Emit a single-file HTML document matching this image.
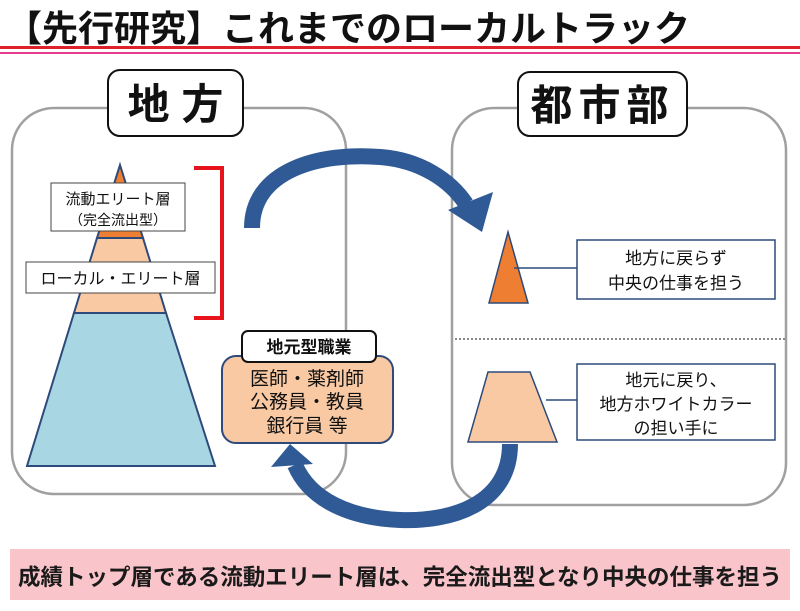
<!DOCTYPE html>
<html><head><meta charset="utf-8"><style>
body{margin:0;width:800px;height:606px;background:#fff;overflow:hidden;font-family:"Liberation Sans","Noto Sans CJK JP",sans-serif}
</style></head><body>
<svg width="800" height="606" xmlns="http://www.w3.org/2000/svg" style="font-family:'Liberation Sans','Noto Sans CJK JP',sans-serif">
<text x="6" y="41" font-size="36" font-weight="bold" fill="#111">【先行研究】これまでのローカルトラック</text>
<rect x="0" y="46" width="800" height="3" fill="#e0202a"/>
<rect x="0" y="52" width="800" height="2" fill="#e63c8c"/>
<rect x="12" y="108" width="334" height="386" rx="42" fill="none" stroke="#a0a0a0" stroke-width="2.5"/>
<rect x="452" y="108" width="334" height="397" rx="42" fill="none" stroke="#a0a0a0" stroke-width="2.5"/>
<line x1="455" y1="339" x2="786" y2="339" stroke="#888" stroke-width="2" stroke-dasharray="2,2"/>
<rect x="108" y="70" width="135" height="66" rx="12" fill="#fff" stroke="#111" stroke-width="2"/>
<text x="175.5" y="119" font-size="42" font-weight="bold" text-anchor="middle" fill="#111">地 方</text>
<rect x="518" y="72" width="169" height="64" rx="12" fill="#fff" stroke="#111" stroke-width="2"/>
<text x="602.5" y="120" font-size="42" font-weight="bold" text-anchor="middle" fill="#111" letter-spacing="6">都市部</text>
<!-- pyramid -->
<polygon points="74,313 166,313 215,466 27,466" fill="#a9d6e3" stroke="#2d4a7a" stroke-width="2"/>
<polygon points="97,238 143,238 166,313 74,313" fill="#f8c9a3" stroke="#2d4a7a" stroke-width="2"/>
<polygon points="120,165 143,238 97,238" fill="#ee7f32" stroke="#2d4a7a" stroke-width="2"/>
<rect x="51" y="183" width="134" height="48" fill="#fff" stroke="#444" stroke-width="1"/>
<text x="118" y="204" font-size="15" text-anchor="middle" fill="#111">流動エリート層</text>
<text x="118" y="225" font-size="14" text-anchor="middle" fill="#111">（完全流出型）</text>
<rect x="26" y="262" width="189" height="31" fill="#fff" stroke="#444" stroke-width="1"/>
<text x="120.5" y="284" font-size="16" text-anchor="middle" fill="#111">ローカル・エリート層</text>
<path d="M194,168 H222 V318 H194" fill="none" stroke="#e8141c" stroke-width="4"/>
<!-- right shapes -->
<polygon points="508,232 528,303 489,303" fill="#ee7f32" stroke="#2d4a7a" stroke-width="1.5"/>
<line x1="514" y1="268" x2="577" y2="268" stroke="#2d4a7a" stroke-width="1.5"/>
<rect x="577" y="240" width="198" height="59" fill="#fff" stroke="#2d4a7a" stroke-width="1.5"/>
<text x="676" y="264" font-size="17" text-anchor="middle" fill="#111">地方に戻らず</text>
<text x="676" y="289" font-size="17" text-anchor="middle" fill="#111">中央の仕事を担う</text>
<polygon points="488,372 530,372 557,442 468,442" fill="#f8c9a3" stroke="#2d4a7a" stroke-width="1.5"/>
<line x1="546" y1="400" x2="577" y2="400" stroke="#2d4a7a" stroke-width="1.5"/>
<rect x="577" y="364" width="198" height="76" fill="#fff" stroke="#2d4a7a" stroke-width="1.5"/>
<text x="676" y="386" font-size="17" text-anchor="middle" fill="#111">地元に戻り、</text>
<text x="676" y="410" font-size="17" text-anchor="middle" fill="#111">地方ホワイトカラー</text>
<text x="676" y="434" font-size="17" text-anchor="middle" fill="#111">の担い手に</text>
<!-- local job box -->
<rect x="222" y="356" width="171" height="87" rx="14" fill="#f8c9a3" stroke="#2d4a7a" stroke-width="2"/>
<rect x="242" y="331" width="134" height="31" rx="6" fill="#fff" stroke="#111" stroke-width="2"/>
<text x="309" y="353" font-size="17" font-weight="bold" text-anchor="middle" fill="#111">地元型職業</text>
<text x="307" y="385" font-size="19" text-anchor="middle" fill="#111">医師・薬剤師</text>
<text x="307" y="408" font-size="19" text-anchor="middle" fill="#111">公務員・教員</text>
<text x="307" y="432" font-size="19" text-anchor="middle" fill="#111">銀行員 等</text>
<!-- arrows -->
<path d="M252,228 C252,170 320,152 380,157 C420,160 450,180 466,204" fill="none" stroke="#2f5a96" stroke-width="16"/>
<polygon points="448,210 493,192 482,232" fill="#2f5a96"/>
<path d="M510,444 C510,505 450,522 400,520 C350,518 310,500 295,465" fill="none" stroke="#2f5a96" stroke-width="16"/>
<polygon points="271,467 313,464 290,444" fill="#2f5a96"/>
<!-- banner -->
<rect x="10" y="549" width="780" height="51" fill="#f9c5ca"/>
<text x="400" y="585" font-size="22.5" font-weight="bold" text-anchor="middle" fill="#1a1a1a">成績トップ層である流動エリート層は、完全流出型となり中央の仕事を担う</text>
</svg>
</body></html>
